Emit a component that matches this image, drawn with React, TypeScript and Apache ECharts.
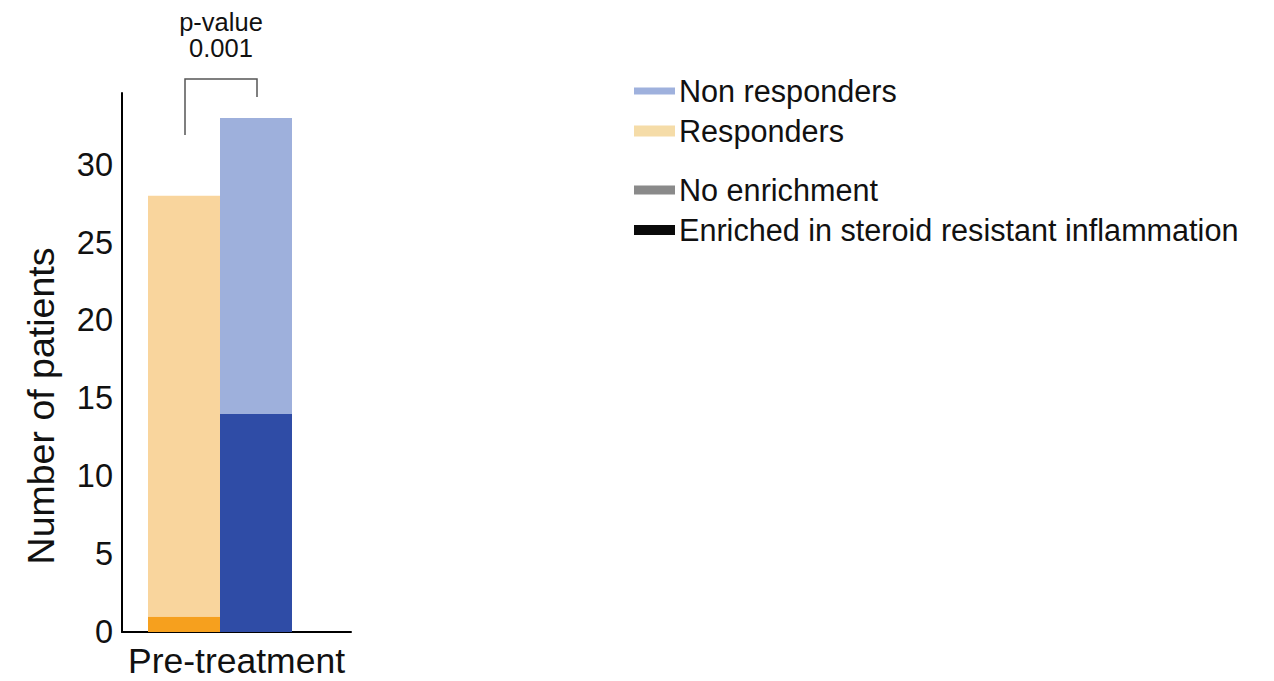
import React, { useEffect, useRef } from "react";
import * as echarts from "echarts";

// Patient counts per group, split by enrichment status
const categories = ["Pre-treatment"];
const respondersEnriched = [1];
const respondersNoEnrichment = [27];
const nonRespondersEnriched = [14];
const nonRespondersNoEnrichment = [19];
const yTicks = [0, 5, 10, 15, 20, 25, 30];

const legendItems = [
  { label: "Non responders", color: "#9fb1dd", h: 7, y: 91 },
  { label: "Responders", color: "#f5dca8", h: 11, y: 131 },
  { label: "No enrichment", color: "#8a8a8a", h: 9, y: 190 },
  { label: "Enriched in steroid resistant inflammation", color: "#0a0a0a", h: 10, y: 230 },
];

const FONT = "Liberation Sans, Arial, Helvetica, sans-serif";

export default function App() {
  const ref = useRef<HTMLDivElement>(null);

  useEffect(() => {
    if (!ref.current) return;
    const chart = echarts.init(ref.current, undefined, { renderer: "svg" });

    const legendGraphics: any[] = [];
    legendItems.forEach((it) => {
      legendGraphics.push({
        type: "rect",
        shape: { x: 634, y: it.y - it.h / 2, width: 41, height: it.h },
        style: { fill: it.color },
      });
      legendGraphics.push({
        type: "text",
        x: 679,
        y: it.y,
        style: {
          text: it.label,
          font: `30.6px ${FONT}`,
          fill: "#111",
          textVerticalAlign: "middle",
          textAlign: "left",
        },
      });
    });

    chart.setOption({
      animation: false,
      grid: { left: 122, right: 923, top: 93, bottom: 49, containLabel: false },
      xAxis: {
        type: "category",
        data: categories,
        axisLine: { show: true, lineStyle: { color: "#000", width: 2 } },
        axisTick: { show: false },
        axisLabel: {
          margin: 11,
          fontSize: 35.5,
          fontFamily: FONT,
          color: "#111",
        },
      },
      yAxis: {
        type: "value",
        min: 0,
        max: 34.6,
        interval: 5,
        axisLine: { show: true, lineStyle: { color: "#000", width: 2 } },
        axisTick: { show: false },
        splitLine: { show: false },
        axisLabel: {
          margin: 9,
          fontSize: 32.5,
          fontFamily: FONT,
          color: "#111",
          formatter: (v: number) => (yTicks.includes(v) ? String(v) : ""),
        },
      },
      series: [
        {
          name: "Responders enriched",
          type: "bar",
          stack: "responders",
          barWidth: 72,
          barGap: "0%",
          data: respondersEnriched,
          itemStyle: { color: "#f6a01e" },
        },
        {
          name: "Responders no enrichment",
          type: "bar",
          stack: "responders",
          barWidth: 72,
          barGap: "0%",
          data: respondersNoEnrichment,
          itemStyle: { color: "#f9d59d" },
        },
        {
          name: "Non responders enriched",
          type: "bar",
          stack: "nonresponders",
          barWidth: 72,
          barGap: "0%",
          data: nonRespondersEnriched,
          itemStyle: { color: "#2f4ca6" },
        },
        {
          name: "Non responders no enrichment",
          type: "bar",
          stack: "nonresponders",
          barWidth: 72,
          barGap: "0%",
          data: nonRespondersNoEnrichment,
          itemStyle: { color: "#9eb0dc" },
        },
        {
          // empty slot that keeps the pair left of the category centre
          name: "spacer",
          type: "bar",
          stack: "spacer",
          barWidth: 33,
          barGap: "0%",
          data: [0],
          silent: true,
          itemStyle: { color: "rgba(0,0,0,0)" },
        },
      ],
      graphic: [
        {
          type: "text",
          x: 221,
          y: 22,
          style: {
            text: "p-value",
            font: `25.5px ${FONT}`,
            fill: "#111",
            textAlign: "center",
            textVerticalAlign: "middle",
          },
        },
        {
          type: "text",
          x: 221,
          y: 48,
          style: {
            text: "0.001",
            font: `25.5px ${FONT}`,
            fill: "#111",
            textAlign: "center",
            textVerticalAlign: "middle",
          },
        },
        {
          type: "polyline",
          shape: {
            points: [
              [185, 135],
              [185, 79],
              [257, 79],
              [257, 97],
            ],
          },
          style: { stroke: "#555", lineWidth: 1.5, fill: "none" },
        },
        {
          type: "text",
          x: 41,
          y: 406,
          rotation: Math.PI / 2,
          style: {
            text: "Number of patients",
            font: `37.5px ${FONT}`,
            fill: "#111",
            textAlign: "center",
            textVerticalAlign: "middle",
          },
        },
        ...legendGraphics,
      ],
    });

    return () => chart.dispose();
  }, []);

  return (
    <div
      ref={ref}
      style={{ position: "absolute", left: 0, top: 0, width: 1274, height: 681, background: "#fff" }}
    />
  );
}
